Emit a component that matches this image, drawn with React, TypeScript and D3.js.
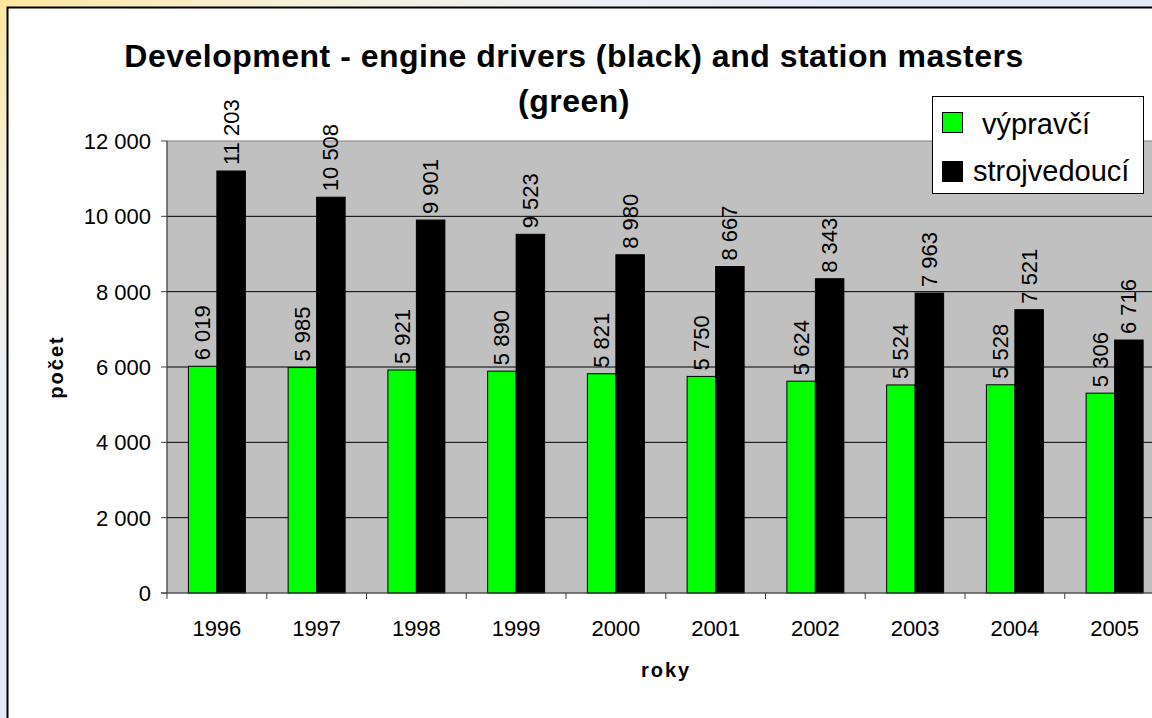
import React from 'react';
import * as d3 from 'd3';

const years = ['1996', '1997', '1998', '1999', '2000', '2001', '2002', '2003', '2004', '2005'];
const vypravci = [6019, 5985, 5921, 5890, 5821, 5750, 5624, 5524, 5528, 5306];
const strojvedouci = [11203, 10508, 9901, 9523, 8980, 8667, 8343, 7963, 7521, 6716];
const yTicks = [0, 2000, 4000, 6000, 8000, 10000, 12000];
const seriesNames = ['výpravčí', 'strojvedoucí'];
const seriesColors = ['#00FF00', '#000000'];

const fmt = (v: number) => d3.format(',')(v).replace(/,/g, ' ');

const W = 1152;
const H = 718;
const plot = { left: 167, top: 141, bottom: 593, right: 167 + 99.75 * 10 };

export default function App() {
  const x = d3.scaleBand<string>().domain(years).range([plot.left, plot.right]).padding(0);
  const inner = d3
    .scaleBand<string>()
    .domain(seriesNames)
    .range([0, x.bandwidth()])
    .paddingInner(0)
    .paddingOuter(0.75);
  const y = d3.scaleLinear().domain([0, 12000]).range([plot.bottom, plot.top]);
  const font = '"Liberation Sans", Arial, sans-serif';
  const series = [vypravci, strojvedouci];

  return (
    <svg width={W} height={H} style={{ position: 'absolute', left: 0, top: 0 }} fontFamily={font}>
      <defs>
        <radialGradient id="bg" cx="0" cy="0" r="0.75" gradientUnits="objectBoundingBox">
          <stop offset="0" stopColor="#FCE7A0" />
          <stop offset="0.35" stopColor="#F6F0DA" />
          <stop offset="0.7" stopColor="#ECEFF6" />
          <stop offset="1" stopColor="#E4EAF8" />
        </radialGradient>
      </defs>
      <rect x={0} y={0} width={W} height={H} fill="url(#bg)" />
      <rect x={7.5} y={7.5} width={W + 20} height={H + 20} fill="#fff" stroke="#000" strokeWidth={2} />

      {/* plot area */}
      <rect
        x={plot.left}
        y={plot.top}
        width={plot.right - plot.left}
        height={plot.bottom - plot.top}
        fill="#C0C0C0"
        stroke="#808080"
        strokeWidth={1}
      />
      {yTicks.slice(1, -1).map((t) => (
        <line key={t} x1={plot.left} x2={plot.right} y1={y(t)} y2={y(t)} stroke="#000" strokeWidth={1} />
      ))}

      {/* bars */}
      {years.map((yr, i) => (
        <g key={yr} transform={`translate(${x(yr)},0)`}>
          {seriesNames.map((s, si) => {
            const v = series[si][i];
            return (
              <rect
                key={s}
                x={inner(s)}
                y={y(v)}
                width={inner.bandwidth()}
                height={plot.bottom - y(v)}
                fill={seriesColors[si]}
                stroke="#000"
                strokeWidth={1}
              />
            );
          })}
        </g>
      ))}

      {/* value labels */}
      {years.map((yr, i) =>
        seriesNames.map((s, si) => {
          const v = series[si][i];
          const cx = (x(yr) as number) + (inner(s) as number) + inner.bandwidth() / 2 + 7.5;
          const cy = y(v) - 6;
          return (
            <text
              key={yr + s}
              transform={`translate(${cx},${cy}) rotate(-90)`}
              fontSize={22}
              textAnchor="start"
              fill="#000"
            >
              {fmt(v)}
            </text>
          );
        })
      )}

      {/* y axis */}
      <line x1={plot.left} x2={plot.left} y1={plot.top} y2={plot.bottom} stroke="#404040" strokeWidth={1} />
      {yTicks.map((t) => (
        <g key={t}>
          <line x1={plot.left - 6} x2={plot.left} y1={y(t)} y2={y(t)} stroke="#404040" strokeWidth={1} />
          <text x={151} y={y(t) + 8} fontSize={22} textAnchor="end" fill="#000">
            {fmt(t)}
          </text>
        </g>
      ))}

      {/* x axis */}
      <line x1={plot.left - 6} x2={plot.right} y1={plot.bottom} y2={plot.bottom} stroke="#404040" strokeWidth={1} />
      {years.map((yr) => (
        <g key={yr}>
          <line
            x1={x(yr) as number}
            x2={x(yr) as number}
            y1={plot.bottom}
            y2={plot.bottom + 6}
            stroke="#404040"
            strokeWidth={1}
          />
          <text x={(x(yr) as number) + x.bandwidth() / 2} y={636} fontSize={22} textAnchor="middle" fill="#000">
            {yr}
          </text>
        </g>
      ))}

      {/* titles */}
      <text x={574} y={67} fontSize={32} fontWeight="bold" textAnchor="middle" letterSpacing={0.5}>
        Development - engine drivers (black) and station masters
      </text>
      <text x={574} y={112} fontSize={32} fontWeight="bold" textAnchor="middle" letterSpacing={0.5}>
        (green)
      </text>
      <text x={666} y={677} fontSize={20} fontWeight="bold" textAnchor="middle" letterSpacing={2}>
        roky
      </text>
      <text
        transform={`translate(63,367) rotate(-90)`}
        fontSize={20}
        fontWeight="bold"
        textAnchor="middle"
        letterSpacing={2}
      >
        počet
      </text>

      {/* legend */}
      <rect x={932.5} y={96.5} width={211} height={97} fill="#fff" stroke="#000" strokeWidth={1} />
      {seriesNames.map((s, si) => (
        <g key={s}>
          <rect x={942.5} y={112.5 + si * 49} width={20} height={20} fill={seriesColors[si]} stroke="#000" strokeWidth={1} />
          <text x={si === 0 ? 982 : 973} y={134 + si * 47} fontSize={29} fill="#000">
            {s}
          </text>
        </g>
      ))}
    </svg>
  );
}
